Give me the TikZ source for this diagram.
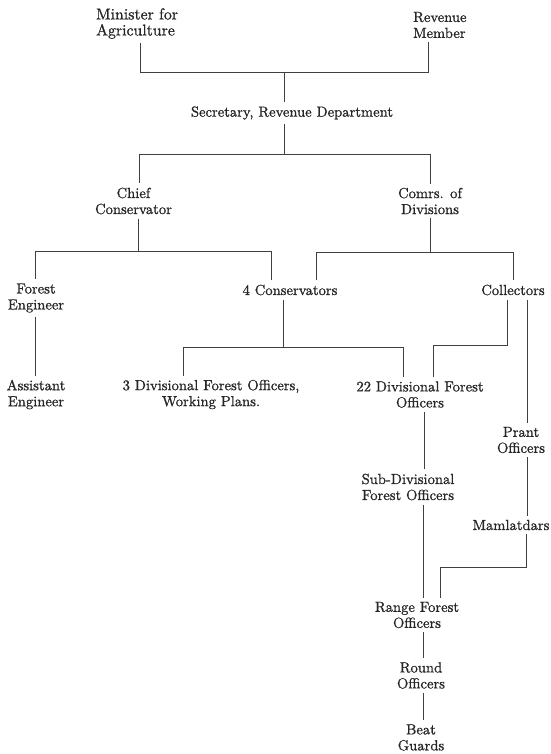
\documentclass[tikz,border=0pt]{standalone}
\usepackage{fontspec}
\newfontfamily\chartfont{lmroman10-regular.otf}[FakeBold=1]
\usetikzlibrary{calc}
\begin{document}
\begin{tikzpicture}[x=1pt,y=-1pt,
  lbl/.style={font=\chartfont\fontsize{14.6}{16}\selectfont, text=black!85, align=center, inner xsep=0pt, inner ysep=4pt},
  conn/.style={draw=black!75, line width=0.8pt}]
\useasboundingbox (0,0) rectangle (550,754);
% nodes
\node[lbl, font=\chartfont\fontsize{15.8}{16}\selectfont, anchor=west, align=left] (min) at (96,23.5) {Minister for\\Agriculture};
\node[lbl, anchor=west, align=left] (rev) at (413,25) {Revenue\\Member};
\node[lbl] (sec) at (292,113) {Secretary, Revenue Department};
\node[lbl] (chief) at (133.5,201) {Chief\\Conservator};
\node[lbl] (comrs) at (430,201) {Comrs. of\\Divisions};
\node[lbl] (fe) at (36,298) {Forest\\Engineer};
\node[lbl] (fourc) at (290,290) {4 Conservators};
\node[lbl] (coll) at (513,290) {Collectors};
\node[lbl] (ae) at (36,394.5) {Assistant\\Engineer};
\node[lbl] (dfo3) at (211,394.5) {3 Divisional Forest Officers,\\Working Plans.};
\node[lbl] (dfo22) at (420,394.5) {22 Divisional Forest\\Officers};
\node[lbl] (prant) at (521,440) {Prant\\Officers};
\node[lbl] (subdiv) at (408,487) {Sub-Divisional\\Forest Officers};
\node[lbl] (maml) at (511,525) {Mamlatdars};
\node[lbl] (range) at (417,615) {Range Forest\\Officers};
\node[lbl] (round) at (421,675.5) {Round\\Officers};
\node[lbl] (beat) at (421,737.5) {Beat\\Guards};
% vertical line positions
\coordinate (xMin) at (140,0);
\coordinate (xRev) at (428,0);
\coordinate (xMid) at (284,0);
\coordinate (xCh) at (139,0);
\coordinate (xCo) at (430,0);
\coordinate (xChD) at (138,0);
\coordinate (xFE) at (35.5,0);
\coordinate (x4Cl) at (271,0);
\coordinate (x4Cr) at (316,0);
\coordinate (xColl) at (513,0);
\coordinate (x4Cd) at (283,0);
\coordinate (xD3) at (183,0);
\coordinate (xD22l) at (403,0);
\coordinate (xCollL) at (507,0);
\coordinate (xD22r) at (433,0);
\coordinate (xCollR) at (527,0);
\coordinate (xD22d) at (424,0);
\coordinate (xSD) at (423,0);
\coordinate (xMam) at (526,0);
\coordinate (xRF) at (440,0);
% bus coordinates
\coordinate (b1) at (284,72.5);
\coordinate (b2) at (284,154);
\coordinate (b3) at (138,251);
\coordinate (b4) at (430,252);
\coordinate (b5) at (283,347);
\coordinate (b6) at (507,345);
\coordinate (b7) at (526,567);
% connectors
\draw[conn] (min.south -| xMin) |- (b1) -| (rev.south -| xRev);
\draw[conn] (b1) -- (sec.north -| xMid);
\draw[conn] (sec.south -| xMid) -- (b2);
\draw[conn] (b2) -| (chief.north -| xCh);
\draw[conn] (b2) -| (comrs.north -| xCo);
\draw[conn] (chief.south -| xChD) -- (b3);
\draw[conn] (b3) -| (fe.north -| xFE);
\draw[conn] (b3) -| (fourc.north -| x4Cl);
\draw[conn] (comrs.south -| xCo) -- (b4);
\draw[conn] (b4) -| (fourc.north -| x4Cr);
\draw[conn] (b4) -| (coll.north -| xColl);
\draw[conn] (fe.south -| xFE) -- (ae.north -| xFE);
\draw[conn] (fourc.south -| x4Cd) -- (b5);
\draw[conn] (b5) -| (dfo3.north -| xD3);
\draw[conn] (b5) -| (dfo22.north -| xD22l);
\draw[conn] (coll.south -| xCollL) -- (b6) -| (dfo22.north -| xD22r);
\draw[conn] (coll.south -| xCollR) -- (prant.north -| xCollR);
\draw[conn] (dfo22.south -| xD22d) -- (subdiv.north -| xD22d);
\draw[conn] (prant.south -| xCollR) -- (maml.north -| xCollR);
\draw[conn] (subdiv.south -| xSD) -- (range.north -| xSD);
\draw[conn] (maml.south -| xMam) -- (b7) -| (range.north -| xRF);
\draw[conn] (range.south -| xSD) -- (round.north -| xSD);
\draw[conn] (round.south -| xSD) -- (beat.north -| xSD);
\end{tikzpicture}
\end{document}
